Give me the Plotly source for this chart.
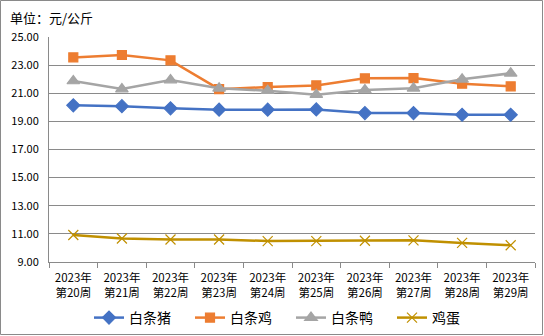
import plotly.graph_objects as go

weeks = ["2023年<br>第20周", "2023年<br>第21周", "2023年<br>第22周", "2023年<br>第23周", "2023年<br>第24周",
         "2023年<br>第25周", "2023年<br>第26周", "2023年<br>第27周", "2023年<br>第28周", "2023年<br>第29周"]
pig = [20.14, 20.08, 19.93, 19.83, 19.83, 19.85, 19.59, 19.59, 19.47, 19.47]
chicken = [23.55, 23.72, 23.34, 21.29, 21.44, 21.56, 22.06, 22.08, 21.68, 21.49]
duck = [21.87, 21.30, 21.94, 21.35, 21.18, 20.90, 21.23, 21.35, 21.99, 22.42]
egg = [10.92, 10.67, 10.60, 10.60, 10.49, 10.49, 10.51, 10.54, 10.36, 10.19]
names = ["白条猪", "白条鸡", "白条鸭", "鸡蛋"]
colors = ["#4472C4", "#ED7D31", "#A5A5A5", "#C09000"]

FONT = "Noto Sans CJK SC"
W, H = 544, 336
ml, mr, mt, mb = 49, 9, 37, 74
pw, ph = W - ml - mr, H - mt - mb

fig = go.Figure()
series = [pig, chicken, duck, egg]
symbols = ["diamond", "square", "triangle-up", "x-thin-open"]
sizes = [10, 9, 11, 10]
for name, vals, col, sym, sz in zip(names, series, colors, symbols, sizes):
    fig.add_trace(go.Scatter(
        x=weeks, y=vals, name=name, mode="lines+markers",
        line=dict(color=col, width=2.5),
        marker=dict(symbol=sym, size=sz, color=col,
                    line=dict(color=col, width=1.2)),
    ))

fig.update_layout(
    width=W, height=H,
    margin=dict(l=ml, r=mr, t=mt, b=mb, autoexpand=False),
    paper_bgcolor="white", plot_bgcolor="white",
    font=dict(family=FONT, size=11, color="#000000"),
    title=dict(text="单位：元/公斤", x=10 / W, xanchor="left", y=1 - 18 / H, yanchor="middle",
               font=dict(family=FONT, size=13, color="#000000")),
    showlegend=True,
    legend=dict(orientation="h", x=(291 - ml) / pw, xanchor="center",
                y=-56 / ph, yanchor="middle",
                font=dict(family=FONT, size=14, color="#000000"),
                entrywidth=56, itemwidth=30),
    xaxis=dict(type="category", showgrid=False, showline=True, linecolor="#8a8a8a", linewidth=1,
               ticks="outside", tickson="boundaries", ticklen=5, tickcolor="#8a8a8a",
               ticklabelstandoff=5,
               tickfont=dict(family=FONT, size=11.5), range=[-0.5, 9.5], fixedrange=True,
               automargin=False),
    yaxis=dict(range=[9, 25], dtick=2, tick0=9, tickformat=".2f", showgrid=True,
               gridcolor="#8a8a8a", gridwidth=1, showline=True, linecolor="#8a8a8a",
               zeroline=False, ticks="", ticklabelstandoff=7, automargin=False,
               tickfont=dict(family=FONT, size=11)),
)

fig.add_shape(type="rect", xref="paper", yref="paper",
              x0=-(ml - 0.5) / pw, x1=1 + (mr - 1.5) / pw,
              y0=-(mb - 1.5) / ph, y1=1 + (mt - 0.5) / ph,
              line=dict(color="#8a8a8a", width=1), layer="below")

fig.write_html("out.html")
